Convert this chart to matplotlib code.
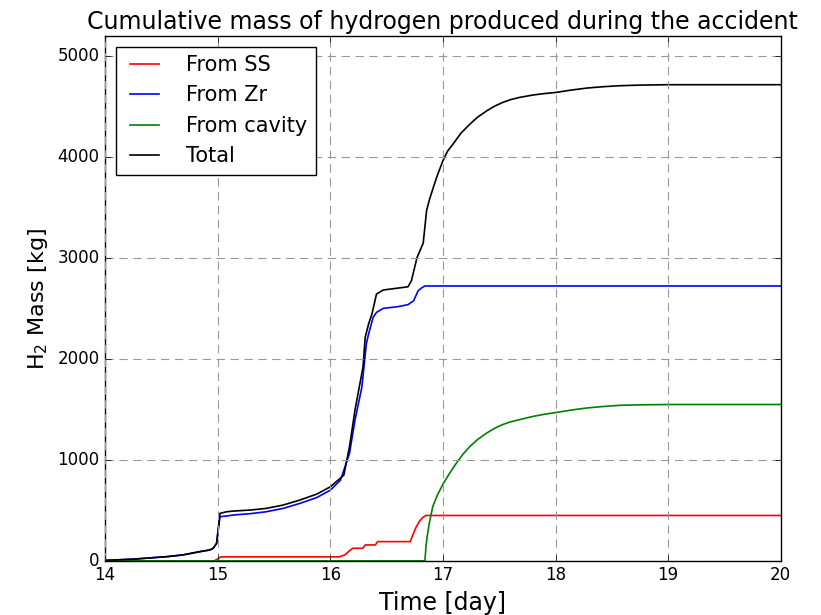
import matplotlib
matplotlib.use("Agg")
import matplotlib.pyplot as plt

plt.style.use("classic")
plt.rcParams.update({
    "figure.facecolor": "white",
    "savefig.facecolor": "white",
    "font.family": ["DejaVu Sans"],
    "mathtext.default": "regular",
})

# Hydrogen from stainless steel oxidation
t_ss = [14.0, 14.97, 15.0, 15.03, 16.08, 16.13, 16.17, 16.2, 16.29, 16.31,
        16.4, 16.42, 16.71, 16.73, 16.76, 16.79, 16.82, 16.85, 20.0]
m_ss = [0, 0, 20, 40, 40, 60, 100, 125, 125, 158,
        158, 191, 191, 250, 330, 390, 430, 450, 450]

# Hydrogen from zirconium oxidation
t_zr = [14.0, 14.25, 14.55, 14.69, 14.84, 14.93, 14.96, 14.99, 15.02, 15.08,
        15.14, 15.29, 15.43, 15.58, 15.73, 15.88, 16.0, 16.09, 16.17, 16.22,
        16.28, 16.32, 16.34, 16.38, 16.41, 16.47, 16.6, 16.69, 16.74, 16.78,
        16.81, 16.84, 20.0]
m_zr = [5, 17, 42, 59, 90, 108, 125, 170, 438, 445,
        455, 468, 487, 520, 570, 628, 701, 800, 1064, 1400,
        1722, 2151, 2250, 2414, 2463, 2503, 2520, 2540, 2579, 2678,
        2705, 2725, 2725]

# Hydrogen from the reactor cavity (core-concrete interaction)
t_cav = [14.0, 16.84, 16.85, 16.86, 16.88, 16.91, 16.95, 17.0, 17.06, 17.12,
         17.18, 17.24, 17.31, 17.39, 17.46, 17.53, 17.6, 17.68, 17.8, 17.9,
         18.0, 18.14, 18.28, 18.42, 18.57, 18.75, 19.0, 20.0]
m_cav = [0, 0, 150, 240, 380, 540, 650, 760, 870, 970,
         1060, 1135, 1205, 1268, 1315, 1351, 1378, 1400, 1432, 1453,
         1470, 1495, 1516, 1530, 1542, 1547, 1550, 1550]

# Total hydrogen mass
t_tot = [14.0, 14.25, 14.55, 14.69, 14.84, 14.93, 14.96, 14.99, 15.02, 15.08,
         15.14, 15.29, 15.43, 15.58, 15.73, 15.88, 16.0, 16.12, 16.17, 16.22,
         16.29, 16.31, 16.34, 16.37, 16.41, 16.47, 16.69, 16.72, 16.77, 16.825,
         16.855, 16.88, 16.915, 16.95, 17.0, 17.04, 17.09, 17.16, 17.24, 17.31,
         17.39, 17.46, 17.53, 17.6, 17.68, 17.8, 17.9, 18.0, 18.14, 18.28,
         18.42, 18.57, 18.75, 19.0, 20.0]
m_tot = [5, 17, 42, 59, 92, 109, 125, 175, 471, 487,
         494, 504, 520, 553, 603, 662, 734, 850, 1130, 1500,
         1920, 2216, 2349, 2448, 2645, 2685, 2717, 2777, 3007, 3150,
         3473, 3580, 3703, 3820, 3967, 4060, 4132, 4240, 4330, 4400,
         4462, 4508, 4544, 4572, 4594, 4618, 4632, 4643, 4667, 4687,
         4700, 4710, 4716, 4720, 4720]

fig = plt.figure(figsize=(8.21, 6.15), dpi=100)
ax = fig.add_axes([0.128, 0.088, 0.823, 0.853])

lw = 1.2
ax.plot(t_ss, m_ss, color="#ff0000", lw=lw, label="From SS")
ax.plot(t_zr, m_zr, color="#0000ff", lw=lw, label="From Zr")
ax.plot(t_cav, m_cav, color="#008000", lw=lw, label="From cavity")
ax.plot(t_tot, m_tot, color="black", lw=lw, label="Total")

ax.set_xlim(14, 20)
ax.set_ylim(0, 5200)
ax.set_xticks([14, 15, 16, 17, 18, 19, 20])
ax.set_yticks([0, 1000, 2000, 3000, 4000, 5000])
ax.tick_params(labelsize=12)
ax.grid(True, linestyle=(0, (6, 4)), color="#999999", lw=0.8)

ax.set_title("Cumulative mass of hydrogen produced during the accident", fontsize=17)
ax.set_xlabel("Time [day]", fontsize=17)
ax.set_ylabel("H$_2$ Mass [kg]", fontsize=16)

leg = ax.legend(loc="upper left", fontsize=15, frameon=True, fancybox=False,
                handletextpad=1.0)
leg.get_frame().set_edgecolor("black")

fig.savefig("out.png", dpi=100)
